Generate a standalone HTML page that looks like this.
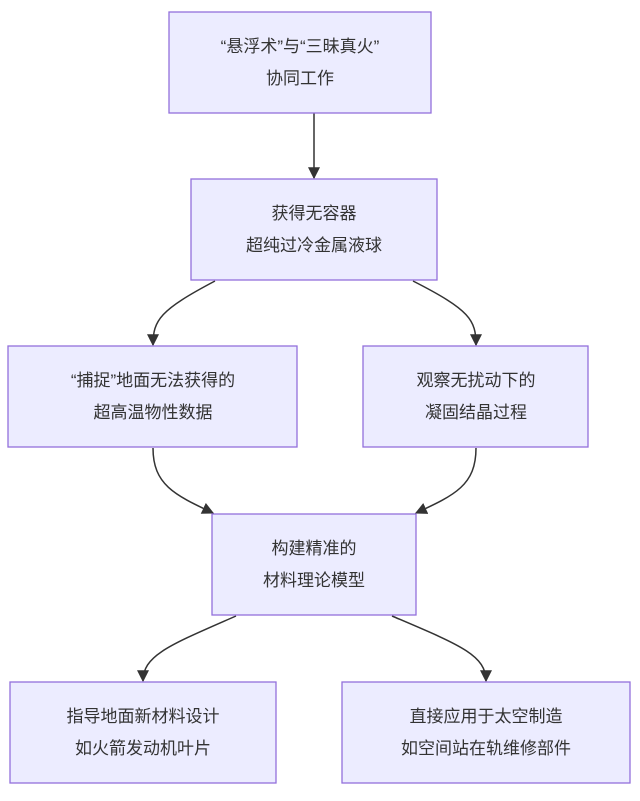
<!DOCTYPE html>
<html><head><meta charset="utf-8"><style>
html,body{margin:0;padding:0;background:#fff;}
svg text{font-family:"Liberation Sans","Noto Sans CJK SC",sans-serif;font-size:17px;fill:#333;text-anchor:middle;}
</style></head><body>
<svg width="640" height="796" viewBox="0 0 640 796" xmlns="http://www.w3.org/2000/svg">
<defs><marker id="a" viewBox="0 0 10 10" refX="9" refY="5" markerWidth="8" markerHeight="8" orient="auto"><path d="M0,0L10,5L0,10z" fill="#333"/></marker></defs>
<g fill="none" stroke="#333" stroke-width="1.5" marker-end="url(#a)">
<path d="M314,113 L314,178"/>
<path d="M215,281 C160,310 153,320 153,345"/>
<path d="M413,281 C470,310 476,320 476,345"/>
<path d="M153,448 C153,485 175,495 213,513"/>
<path d="M476,448 C476,485 455,495 416,513"/>
<path d="M236,616 C170,645 143,655 143,681"/>
<path d="M392,616 C460,645 486,655 486,681"/>
</g>
<g fill="#ECECFF" stroke="#9370DB" stroke-width="1.3">
<rect x="169" y="12" width="262" height="101"/>
<rect x="191" y="179" width="246" height="101"/>
<rect x="8" y="346" width="289" height="101"/>
<rect x="363" y="346" width="225" height="101"/>
<rect x="212" y="514" width="204" height="101"/>
<rect x="10" y="682" width="266" height="101"/>
<rect x="342" y="682" width="288" height="101"/>
</g>
<text x="300" y="52">“悬浮术”与“三昧真火”</text><text x="300" y="84">协同工作</text>
<text x="314" y="219">获得无容器</text><text x="314" y="251">超纯过冷金属液球</text>
<text x="153" y="386">“捕捉”地面无法获得的</text><text x="153" y="418">超高温物性数据</text>
<text x="476" y="386">观察无扰动下的</text><text x="476" y="418">凝固结晶过程</text>
<text x="314" y="554">构建精准的</text><text x="314" y="586">材料理论模型</text>
<text x="143" y="722">指导地面新材料设计</text><text x="143" y="754">如火箭发动机叶片</text>
<text x="486" y="722">直接应用于太空制造</text><text x="486" y="754">如空间站在轨维修部件</text>
</svg>
</body></html>
